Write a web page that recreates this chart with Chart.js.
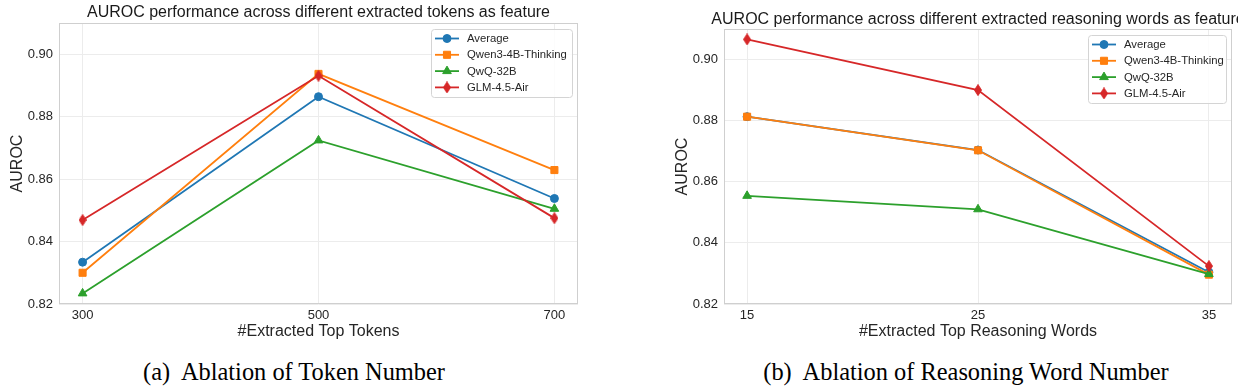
<!DOCTYPE html>
<html>
<head>
<meta charset="utf-8">
<script src="https://cdn.jsdelivr.net/npm/chart.js@4/dist/chart.umd.min.js"></script>
<style>
  html, body { margin: 0; padding: 0; background: #fff; }
  body { width: 1238px; height: 392px; position: relative; overflow: hidden; }
  #wrapA { position: absolute; left: 0; top: 0; width: 610px; height: 346px; }
  #wrapB { position: absolute; left: 665px; top: 0; width: 573px; height: 346px; }
  .cap { position: absolute; top: 358px; font-family: "Liberation Serif", "Times New Roman", serif; font-size: 24.4px; color: #000; white-space: nowrap; transform: translateX(-50%); }
</style>
</head>
<body>
<div id="wrapA"><canvas id="chartA"></canvas></div>
<div id="wrapB"><canvas id="chartB"></canvas></div>
<div class="cap" style="left:294px;">(a)&nbsp; Ablation of Token Number</div>
<div class="cap" style="left:966px;">(b)&nbsp; Ablation of Reasoning Word Number</div>
<script>
// ---- Data ----
const seriesNames = ["Average", "Qwen3-4B-Thinking", "QwQ-32B", "GLM-4.5-Air"];
const seriesColors = ["#1f77b4", "#ff7f0e", "#2ca02c", "#d62728"];

const tokenCounts = [300, 500, 700];
const tokAverage = [0.8334, 0.8864, 0.8538];
const tokQwen = [0.8300, 0.8937, 0.8629];
const tokQwQ = [0.8234, 0.8724, 0.8505];
const tokGLM = [0.8469, 0.8931, 0.8475];

const wordCounts = [15, 25, 35];
const wordAverage = [0.8813, 0.8704, 0.8304];
const wordQwen = [0.8813, 0.8703, 0.8296];
const wordQwQ = [0.8554, 0.8510, 0.8298];
const wordGLM = [0.9066, 0.8900, 0.8324];

const yTicks = [0.82, 0.84, 0.86, 0.88, 0.90];

const titleA = "AUROC performance across different extracted tokens as feature";
const titleB = "AUROC performance across different extracted reasoning words as feature";
const xTitleA = "#Extracted Top Tokens";
const xTitleB = "#Extracted Top Reasoning Words";
const yTitle = "AUROC";

// ---- thin diamond marker ----
function thinDiamond(color) {
  const c = document.createElement('canvas');
  c.width = 8; c.height = 12;
  const g = c.getContext('2d');
  g.fillStyle = color; g.strokeStyle = color; g.lineWidth = 1;
  g.beginPath();
  g.moveTo(4, 0.5); g.lineTo(7.5, 6); g.lineTo(4, 11.5); g.lineTo(0.5, 6); g.closePath();
  g.fill(); g.stroke();
  return c;
}
const glmMarker = thinDiamond(seriesColors[3]);
const pointStyles = ['circle', 'rect', 'triangle', glmMarker];
const pointRadii = [4, 5, 5, 5];

function makeDatasets(xs, arrays) {
  return arrays.map((arr, i) => ({
    label: seriesNames[i],
    data: xs.map((x, j) => ({ x: x, y: arr[j] })),
    borderColor: seriesColors[i],
    backgroundColor: seriesColors[i],
    borderWidth: 1.8,
    pointStyle: pointStyles[i],
    pointRadius: pointRadii[i],
    pointBorderWidth: 1,
    pointBackgroundColor: seriesColors[i],
    pointBorderColor: seriesColors[i],
    tension: 0,
    order: 4 - i
  }));
}

const FONT = '"Liberation Sans", Arial, sans-serif';

const framePlugin = {
  id: 'frameAndLegend',
  afterDraw(chart, args, opts) {
    const ctx = chart.ctx;
    const a = chart.chartArea;
    ctx.save();
    // frame
    ctx.strokeStyle = '#cfcfcf';
    ctx.lineWidth = 1;
    ctx.strokeRect(Math.round(a.left) + 0.5, Math.round(a.top) + 0.5, Math.round(a.right - a.left) - 1, Math.round(a.bottom - a.top) - 1);
    // title
    ctx.fillStyle = '#1a1a1a';
    ctx.font = '16px ' + FONT;
    ctx.textAlign = 'center';
    ctx.textBaseline = 'middle';
    ctx.fillText(opts.title, (a.left + a.right) / 2, opts.titleY);
    // legend
    const w = opts.legendW, h = 68;
    const bx = a.right - 6 - w, by = a.top + 6;
    ctx.fillStyle = 'rgba(255,255,255,0.85)';
    ctx.strokeStyle = '#d4d4d4';
    ctx.beginPath();
    if (ctx.roundRect) ctx.roundRect(bx + 0.5, by + 0.5, w, h, 3); else ctx.rect(bx + 0.5, by + 0.5, w, h);
    ctx.fill(); ctx.stroke();
    ctx.font = '11.3px ' + FONT;
    ctx.textAlign = 'left';
    ctx.textBaseline = 'middle';
    seriesNames.forEach((name, i) => {
      const yy = by + 9.5 + i * 16.3;
      ctx.strokeStyle = seriesColors[i];
      ctx.fillStyle = seriesColors[i];
      ctx.lineWidth = 1.8;
      ctx.beginPath(); ctx.moveTo(bx + 4, yy); ctx.lineTo(bx + 28, yy); ctx.stroke();
      ctx.lineWidth = 1;
      Chart.helpers.drawPoint(ctx, { pointStyle: pointStyles[i], radius: pointRadii[i], borderWidth: 1, rotation: 0 }, bx + 16, yy);
      ctx.fillStyle = '#262626';
      ctx.fillText(name, bx + 36, yy + 0.5);
    });
    ctx.restore();
  }
};

function makeChart(id, xs, arrays, xmin, xmax, padTop, padRight, title, titleY, xTitle, legendW) {
  return new Chart(document.getElementById(id), {
    type: 'line',
    data: { datasets: makeDatasets(xs, arrays) },
    plugins: [framePlugin],
    options: {
      responsive: true,
      maintainAspectRatio: false,
      animation: false,
      layout: { padding: { top: padTop, right: padRight, left: 0, bottom: 0 } },
      plugins: {
        legend: { display: false },
        tooltip: { enabled: false },
        title: { display: false },
        frameAndLegend: { title: title, titleY: titleY, legendW: legendW }
      },
      scales: {
        x: {
          type: 'linear',
          min: xmin, max: xmax,
          afterBuildTicks: s => { s.ticks = xs.map(v => ({ value: v })); },
          afterFit: s => { s.height = 42; },
          grid: { color: '#ececec', lineWidth: 1, drawTicks: false },
          border: { display: false },
          ticks: { padding: 4, color: '#262626', font: { size: 13, family: FONT }, maxRotation: 0, callback: v => String(v) },
          title: { display: true, text: xTitle, color: '#262626', font: { size: 16, family: FONT }, padding: { top: 0, bottom: 5 } }
        },
        y: {
          type: 'linear',
          min: 0.82, max: 0.91,
          afterBuildTicks: s => { s.ticks = yTicks.map(v => ({ value: v })); },
          afterFit: s => { s.width = 59; },
          grid: { color: '#ececec', lineWidth: 1, drawTicks: false },
          border: { display: false },
          ticks: { padding: 6, color: '#262626', font: { size: 13, family: FONT }, callback: v => Number(v).toFixed(2) },
          title: { display: true, text: yTitle, color: '#262626', font: { size: 16, family: FONT }, padding: { top: 8, bottom: 0 } }
        }
      }
    }
  });
}

makeChart('chartA', tokenCounts, [tokAverage, tokQwen, tokQwQ, tokGLM], 280, 720, 23, 32, titleA, 13, xTitleA, 141);
makeChart('chartB', wordCounts, [wordAverage, wordQwen, wordQwQ, wordGLM], 14, 36, 29, 5, titleB, 20, xTitleB, 138);
</script>
</body>
</html>
